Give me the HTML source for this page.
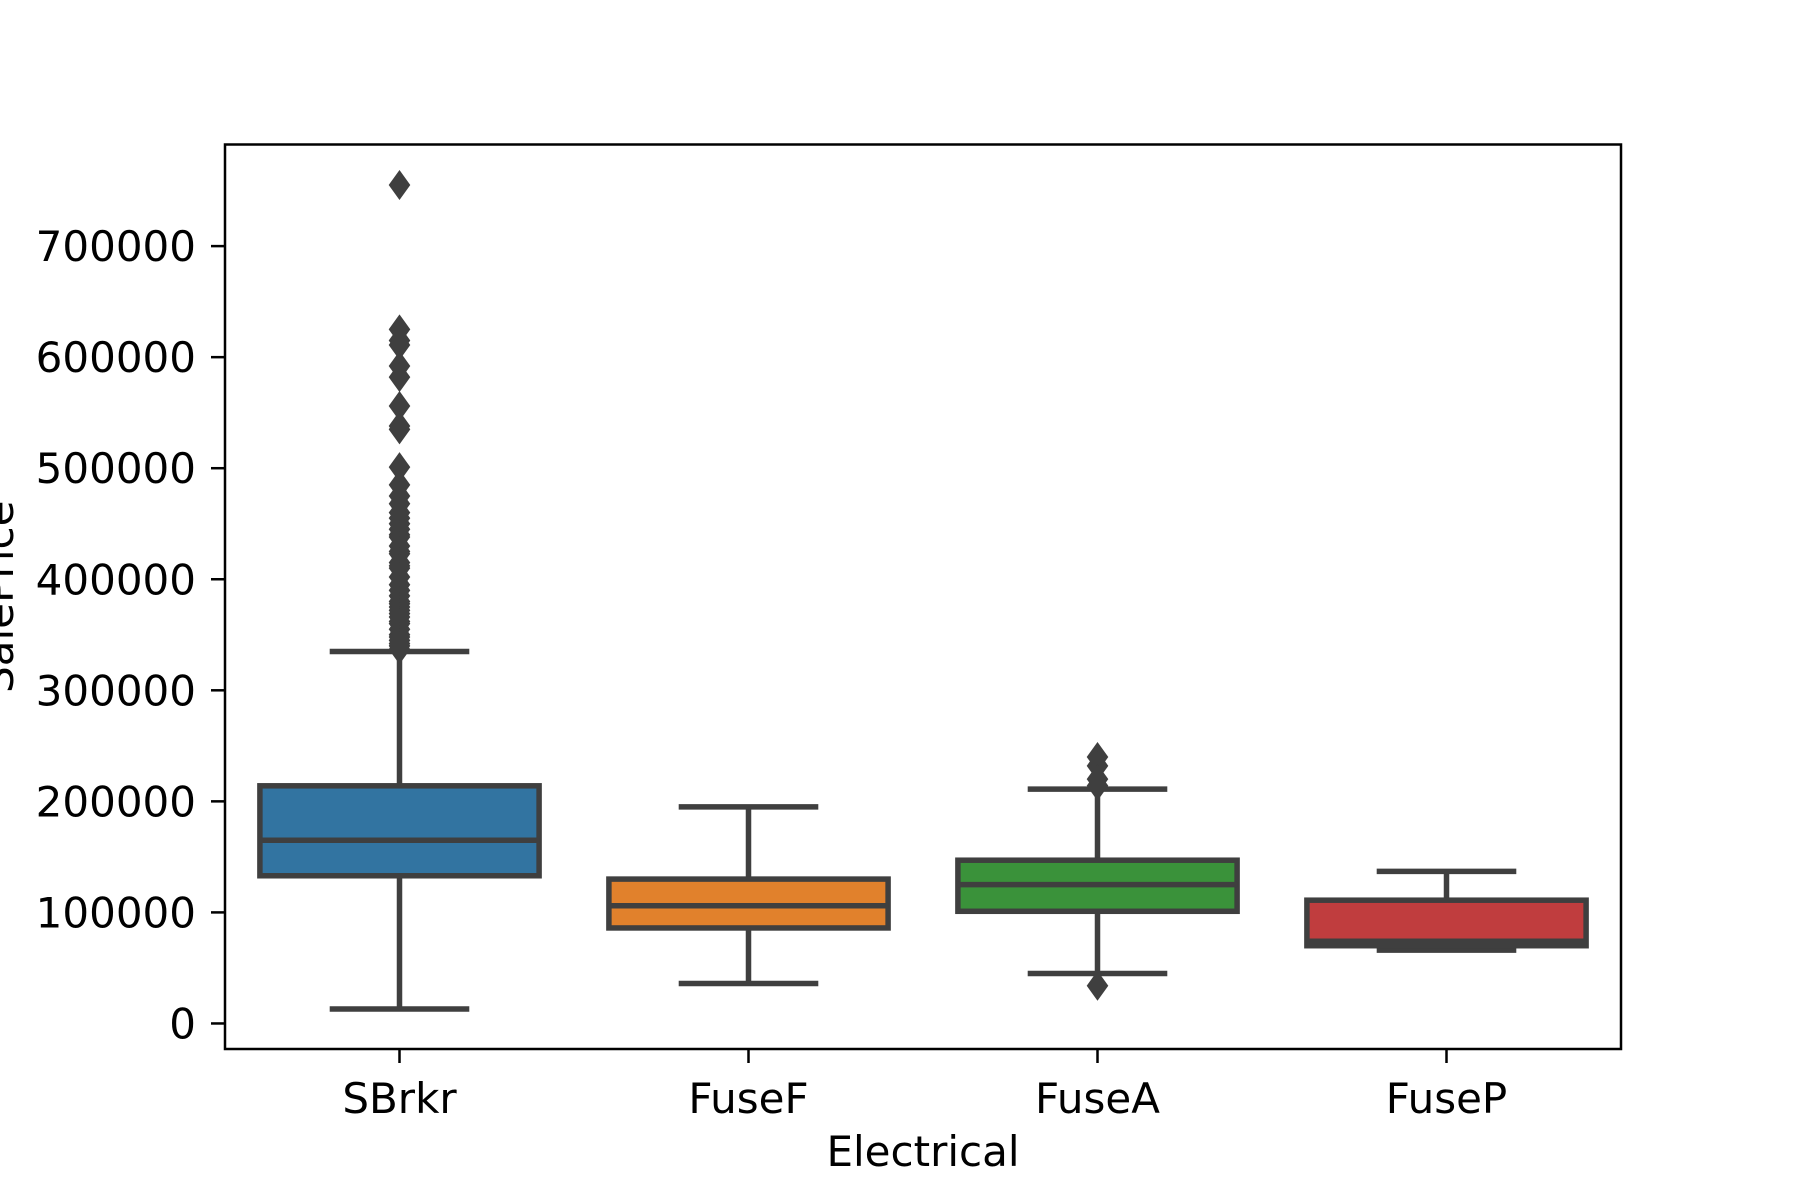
<!DOCTYPE html>
<html><head><meta charset="utf-8"><style>
body{margin:0;background:#fff;}
svg{display:block;font-family:"DejaVu Sans","Liberation Sans",sans-serif;}
</style></head><body>
<svg id="chart" width="1800" height="1200" viewBox="0 0 1800 1200">
<rect width="1800" height="1200" fill="#fff"/>
<g id="plot"></g>
</svg>
<script>
const categories = ["SBrkr","FuseF","FuseA","FuseP"];
const colors = ["#3274a1","#e1812c","#3a923a","#c03d3e"];
const whiskerLow = [13000, 36000, 45000, 66000];
const q1 = [133000, 86000, 101000, 70000];
const median = [165000, 106000, 125000, 74000];
const q3 = [214000, 130000, 147000, 111000];
const whiskerHigh = [335000, 195000, 211000, 137000];
const outliersSBrkr = [755000,625000,615000,611000,592000,582000,556000,538000,535000,501000,485000,475000,468000,460000,455000,450000,445000,440000,438000,430000,425000,423000,415000,412000,410000,402000,395000,390000,385000,380000,378000,375000,372000,369000,366000,362000,360000,355000,350000,348000,345000,342000,340000,337000];
const outliersFuseF = [];
const outliersFuseA = [240000,232000,220000,214000,34000];
const outliersFuseP = [];
const outliers = [outliersSBrkr,outliersFuseF,outliersFuseA,outliersFuseP];
const yTicks = [0,100000,200000,300000,400000,500000,600000,700000];
const yTickLabels = ["0","100000","200000","300000","400000","500000","600000","700000"];

const L=225,R=1621,T=144.5,B=1049;
const yMin=-23000,yMax=791500;
const y=v=>B-(v-yMin)/(yMax-yMin)*(B-T);
const step=(R-L)/categories.length;
const x=i=>L+step*(i+0.5);
const NS="http://www.w3.org/2000/svg";
const g=document.getElementById('plot');
function mk(tag,attrs,parent){const e=document.createElementNS(NS,tag);for(const k in attrs)e.setAttribute(k,attrs[k]);(parent||g).appendChild(e);return e;}
const lc="#3f3f3f",lw=5.5,bw=step*0.8;

categories.forEach((c,i)=>{
  const grp=mk('g',{});
  
  
  const cx=x(i);
  const w1=mk('line',{x1:cx,x2:cx,y1:y(q1[i]),y2:y(whiskerLow[i]),stroke:lc,'stroke-width':lw},grp);
  
  
  const w2=mk('line',{x1:cx,x2:cx,y1:y(q3[i]),y2:y(whiskerHigh[i]),stroke:lc,'stroke-width':lw},grp);
  
  
  const c1=mk('line',{x1:cx-bw/4,x2:cx+bw/4,y1:y(whiskerLow[i]),y2:y(whiskerLow[i]),stroke:lc,'stroke-width':lw},grp);
  
  
  const c2=mk('line',{x1:cx-bw/4,x2:cx+bw/4,y1:y(whiskerHigh[i]),y2:y(whiskerHigh[i]),stroke:lc,'stroke-width':lw},grp);
  
  
  const r=mk('rect',{x:cx-bw/2,y:y(q3[i]),width:bw,height:y(q1[i])-y(q3[i]),fill:colors[i],stroke:lc,'stroke-width':lw},grp);
  
  
  const m=mk('line',{x1:cx-bw/2,x2:cx+bw/2,y1:y(median[i]),y2:y(median[i]),stroke:lc,'stroke-width':lw},grp);
  
  
  outliers[i].forEach(v=>{
    const yy=y(v),s=12;
    const d=mk('polygon',{points:`${cx},${yy-s*1.25} ${cx+s*0.9},${yy} ${cx},${yy+s*1.25} ${cx-s*0.9},${yy}`,fill:lc},grp);
    
    
  });
  const tk=mk('line',{x1:cx,x2:cx,y1:B,y2:B+14,stroke:'#000','stroke-width':2.5});
  
  
  const tl=mk('text',{x:cx,y:B+64,'text-anchor':'middle','font-size':42,fill:'#000'});
  tl.textContent=c;
  
  
});
yTicks.forEach((v,i)=>{
  const tk=mk('line',{x1:L-14,x2:L,y1:y(v),y2:y(v),stroke:'#000','stroke-width':2.5});
  
  
  const tl=mk('text',{x:L-29,y:y(v)+15,'text-anchor':'end','font-size':42,fill:'#000'});
  tl.textContent=yTickLabels[i];
  
  
});
const fr=mk('rect',{x:L,y:T,width:R-L,height:B-T,fill:'none',stroke:'#000','stroke-width':2.5});


const xl=mk('text',{x:(L+R)/2,y:1166,'text-anchor':'middle','font-size':42,fill:'#000'});
xl.textContent='Electrical';


const yl=mk('text',{x:0,y:0,'text-anchor':'middle','font-size':42,fill:'#000',transform:`translate(13,${(T+B)/2}) rotate(-90)`});
yl.textContent='SalePrice';


</script>
</body></html>
